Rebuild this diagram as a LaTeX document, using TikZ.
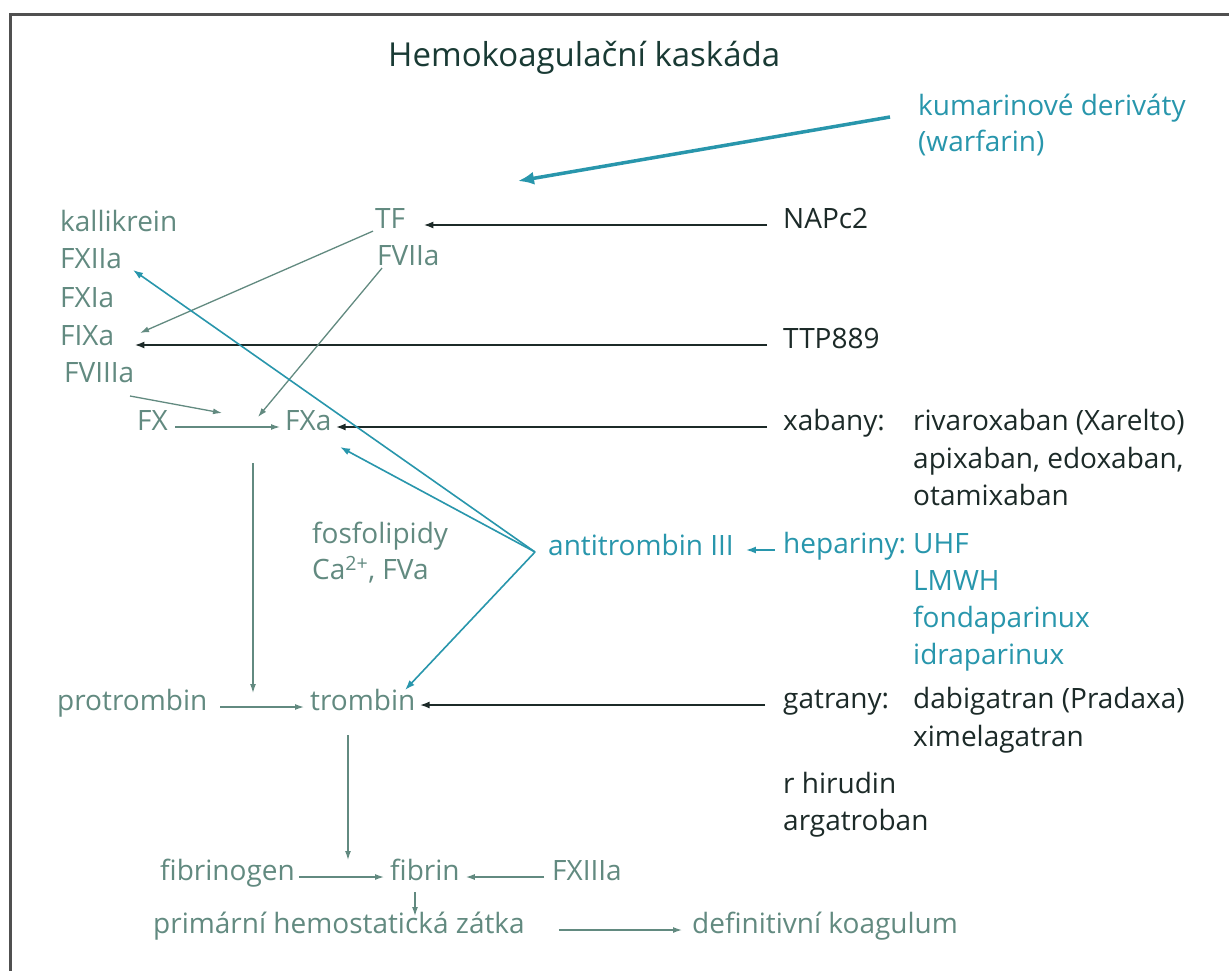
\documentclass[tikz,border=0pt]{standalone}
\usepackage{fontspec}
\setmainfont{Open Sans}
\usetikzlibrary{arrows.meta,calc}
\definecolor{casc}{RGB}{98,138,128}
\definecolor{tealc}{RGB}{40,150,172}
\definecolor{darkc}{RGB}{28,42,40}
\definecolor{titlec}{RGB}{25,58,52}
\definecolor{framec}{RGB}{80,80,80}
\newcommand\bodyfs{\fontsize{28}{37}\selectfont}
\newcommand\titlefs{\fontsize{33}{38}\selectfont}
\tikzset{
  lbl/.style={font=\bodyfs, inner sep=0pt, anchor=west, text height=0.98em, text depth=0.2em},
  casctxt/.style={lbl, text=casc},
  drugtxt/.style={lbl, text=darkc},
  tealtxt/.style={lbl, text=tealc},
  carrow/.style={draw=casc, line width=1.3pt, -{Latex[length=9pt,width=6pt]}},
  darrow/.style={draw=darkc, line width=2pt, -{Latex[length=10pt,width=7pt]}},
  tarrow/.style={draw=tealc, line width=1.6pt, -{Latex[length=10pt,width=7pt]}},
  warfarrow/.style={draw=tealc, line width=3.5pt, -{Latex[length=16pt,width=13pt]}},
}
\begin{document}
\begin{tikzpicture}[x=1pt,y=-1pt]
\useasboundingbox (0,0) rectangle (1229,971);
\fill[white] (0,0) rectangle (1229,971);
\draw[framec, line width=3pt] (10,971) -- (10,15) -- (1229,15);

% title
\node[lbl, font=\titlefs, text=titlec] (title) at (388,63) {Hemokoagulační kaskáda};

% warfarin
\node[tealtxt] (kum) at (918,112) {kumarinové deriváty};
\node[tealtxt] (warf) at (918,148) {(warfarin)};
\coordinate (warfstart) at (890,117);
\coordinate (warftip) at (518,181);
\draw[warfarrow] (warfstart) -- (warftip);

% left column
\node[casctxt] (kal) at (60,228) {kallikrein};
\node[casctxt] (fxiia) at (60,265) {FXIIa};
\node[casctxt] (fxia) at (60,304) {FXIa};
\node[casctxt] (fixa) at (60,342) {FIXa};
\node[casctxt] (fviiia) at (64,379) {FVIIIa};

\node[casctxt] (tf) at (375,225) {TF};
\node[casctxt] (fviia) at (377,262) {FVIIa};

\node[casctxt] (fx) at (137,427) {FX};
\node[casctxt] (fxa) at (285,427) {FXa};

\node[casctxt] (fosf) at (312,540) {fosfolipidy};
\node[casctxt] (ca) at (312,576) {Ca\textsuperscript{2+}, FVa};

\node[casctxt] (pro) at (57,707) {protrombin};
\node[casctxt] (trom) at (310,707) {trombin};

\node[casctxt] (fgen) at (160,877) {fibrinogen};
\node[casctxt] (fib) at (390,877) {fibrin};
\node[casctxt] (f13) at (552,877) {FXIIIa};

\node[casctxt] (prim) at (153,930) {primární hemostatická zátka};
\node[casctxt] (def) at (692,930) {definitivní koagulum};

% right column drugs
\node[drugtxt] (napc) at (783,225) {NAPc2};
\node[drugtxt] (ttp) at (783,345) {TTP889};
\node[drugtxt] (xab) at (783,427) {xabany:};
\node[drugtxt] (riva) at (913,427) {rivaroxaban (Xarelto)};
\node[drugtxt] (apix) at (913,465) {apixaban, edoxaban,};
\node[drugtxt] (otam) at (913,502) {otamixaban};

\node[tealtxt] (at) at (548,552) {antitrombin III};
\node[tealtxt] (hep) at (783,550) {hepariny:};
\node[tealtxt] (uhf) at (913,550) {UHF};
\node[tealtxt] (lmwh) at (913,587) {LMWH};
\node[tealtxt] (fonda) at (913,624) {fondaparinux};
\node[tealtxt] (idra) at (913,661) {idraparinux};

\node[drugtxt] (gat) at (783,705) {gatrany:};
\node[drugtxt] (dabi) at (913,705) {dabigatran (Pradaxa)};
\node[drugtxt] (xime) at (913,743) {ximelagatran};
\node[drugtxt] (hir) at (783,790) {r hirudin};
\node[drugtxt] (arga) at (783,827) {argatroban};

% drug arrows (dark)
\draw[darrow, shorten <=16pt, shorten >=18pt] (napc.west) -- (napc.west -| tf.east);
\draw[darrow, shorten <=16pt, shorten >=20pt] (ttp.west) -- (ttp.west -| fixa.east);
\draw[darrow, shorten <=16pt, shorten >=4pt] (xab.west) -- (xab.west -| fxa.east);
\draw[darrow, shorten <=18pt, shorten >=4pt] (gat.west) -- (gat.west -| trom.east);

% cascade arrows
\coordinate (fixain) at (140,333);
\draw[carrow] ([xshift=-2pt]tf.south west) -- (fixain);
\coordinate (fviiiaout) at (130,396);
\coordinate (fviiiain) at (222,413);
\draw[carrow] (fviiiaout) -- (fviiiain);
\coordinate (fviiain) at (258,417);
\draw[carrow] ([xshift=5pt]fviia.south west) -- (fviiain);
\draw[carrow, shorten <=7pt, shorten >=5pt] (fx.east) -- (fxa.west);
\coordinate (vtop) at (253,463);
\coordinate (vbot) at (253,693);
\draw[carrow] (vtop) -- (vbot);
\draw[carrow, shorten <=13pt, shorten >=6pt] (pro.east) -- (trom.west);
\coordinate (ttop) at (348,735);
\coordinate (tbot) at (348,860);
\draw[carrow] (ttop) -- (tbot);
\draw[carrow, shorten <=4pt, shorten >=6pt] (fgen.east) -- (fib.west);
\draw[carrow, shorten <=8pt, shorten >=6pt] (f13.west) -- (fib.east);
\coordinate (fibdown) at (415,892);
\coordinate (primup) at (415,916);
\draw[carrow] (fibdown) -- (primup);
\draw[carrow, shorten <=34pt, shorten >=10pt] (prim.east) -- (def.west);

% antithrombin arrows (teal)
\coordinate (atv) at ([xshift=-13pt]at.west);
\coordinate (fxiiain) at (133,270);
\coordinate (fxain) at (340,447);
\coordinate (tromin) at (405,690);
\draw[tarrow] (atv) -- (fxiiain);
\draw[tarrow] (atv) -- (fxain);
\draw[tarrow] (atv) -- (tromin);
\draw[tarrow, shorten <=8pt, shorten >=12pt] (hep.west) -- (hep.west -| at.east);
\end{tikzpicture}
\end{document}
